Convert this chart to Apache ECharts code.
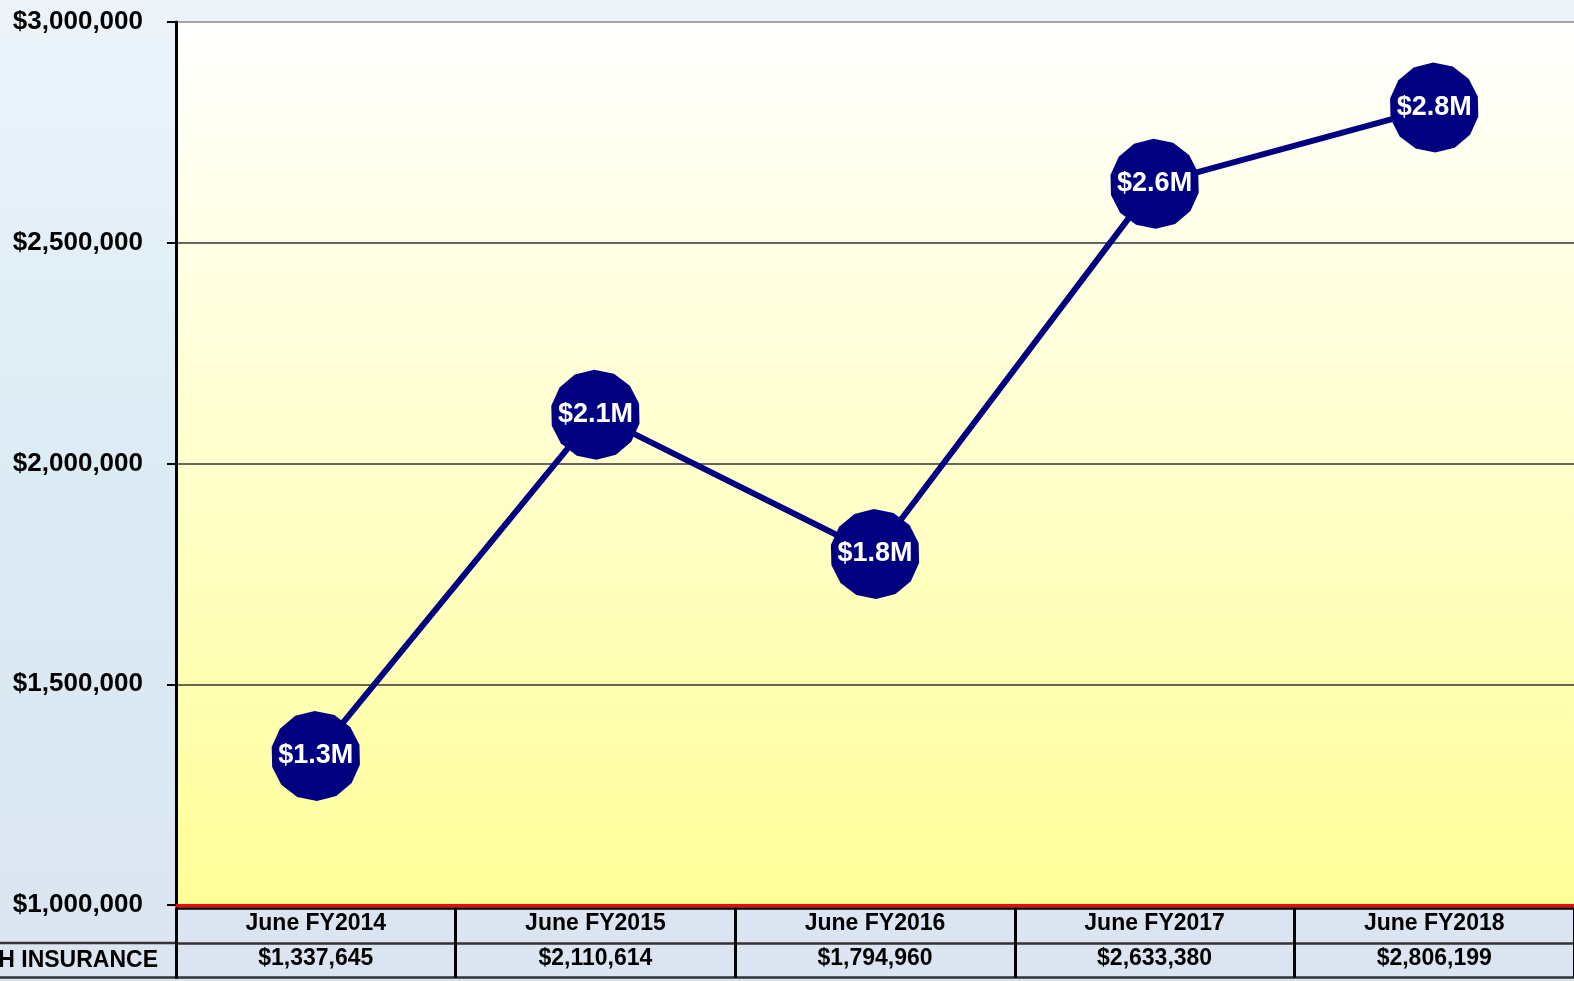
<!DOCTYPE html>
<html>
<head>
<meta charset="utf-8">
<title>Health Insurance</title>
<script src="https://cdn.jsdelivr.net/npm/echarts@6/dist/echarts.min.js"></script>
<style>
  html, body { margin: 0; padding: 0; }
  #chart { width: 1574px; height: 981px; }
</style>
</head>
<body>
<div id="chart"></div>
<script>
// Fiscal-year snapshots and the health insurance amount for each
const categories = ['June FY2014', 'June FY2015', 'June FY2016', 'June FY2017', 'June FY2018'];
const insurance = [1337645, 2110614, 1794960, 2633380, 2806199];
const rowHeader = 'HEALTH INSURANCE';
const yTicks = { min: 1000000, max: 3000000, interval: 500000 };

// Layout of the plot and of the data table beneath it
const PLOT_LEFT = 176, PLOT_RIGHT = 0, PLOT_TOP = 22, PLOT_H = 883;
const TABLE_TOP = 908.5, ROW_H = 34.5;

const FONT = '"Liberation Sans", Arial, sans-serif';
const NAVY = '#000080';

// Rounded polygon marker, built as an SVG path
function polygonPath(sides) {
  const pts = [];
  for (let i = 0; i < sides; i++) {
    const a = (i / sides) * Math.PI * 2 + 0.2;
    pts.push((50 + 50 * Math.cos(a)).toFixed(2) + ' ' + (50 + 50 * Math.sin(a)).toFixed(2));
  }
  return 'path://M' + pts.join(' L') + ' Z';
}

const money = v => '$' + v.toLocaleString('en-US');
const millions = v => '$' + (v / 1e6).toFixed(1) + 'M';

const chart = echarts.init(document.getElementById('chart'), null, { renderer: 'canvas' });

chart.setOption({
  animation: false,
  backgroundColor: new echarts.graphic.LinearGradient(0, 0, 0, 1, [
    { offset: 0, color: '#ecf4fa' },
    { offset: 0.5, color: '#dbebf4' },
    { offset: 1, color: '#dbe5f1' }
  ]),
  textStyle: { fontFamily: FONT },
  grid: [
    {
      left: PLOT_LEFT, right: PLOT_RIGHT, top: PLOT_TOP, height: PLOT_H,
      containLabel: false, outerBoundsMode: 'none',
      show: true, borderWidth: 0,
      backgroundColor: new echarts.graphic.LinearGradient(0, 0, 0, 1, [
        { offset: 0, color: '#ffffff' },
        { offset: 1, color: '#ffff99' }
      ])
    },
    {
      left: PLOT_LEFT, right: PLOT_RIGHT, top: TABLE_TOP, height: ROW_H * 2,
      containLabel: false, outerBoundsMode: 'none',
      show: true, borderWidth: 0, backgroundColor: '#dbe5f1'
    }
  ],
  xAxis: [
    {
      type: 'category', gridIndex: 0, data: categories, boundaryGap: true,
      axisLine: { show: true, lineStyle: { color: '#ff0000', width: 3 } },
      axisTick: { show: false },
      axisLabel: {
        color: '#000', fontWeight: 'bold', fontSize: 23, margin: 7,
        fontFamily: FONT, interval: 0
      },
      splitLine: { show: false }
    },
    {
      // Bottom table row: the amount for each fiscal year
      type: 'category', gridIndex: 1, data: categories, boundaryGap: true,
      axisLine: { show: false }, axisTick: { show: false },
      axisLabel: {
        show: true, inside: true, margin: 7, interval: 0,
        color: '#000', fontWeight: 'bold', fontSize: 23, fontFamily: FONT,
        formatter: (v, i) => money(insurance[i])
      },
      splitLine: { show: true, interval: 0, lineStyle: { color: '#000', width: 3 } }
    }
  ],
  yAxis: [
    {
      type: 'value', gridIndex: 0,
      min: yTicks.min, max: yTicks.max, interval: yTicks.interval,
      axisLine: { show: true, lineStyle: { color: '#000', width: 3 } },
      axisTick: { show: true, length: 9, lineStyle: { color: '#000', width: 2 } },
      axisLabel: {
        color: '#000', fontWeight: 'bold', fontSize: 26, margin: 33,
        fontFamily: FONT, formatter: v => money(v)
      },
      splitLine: {
        show: true,
        lineStyle: { color: ['#333', '#333', '#333', '#333', '#8a8a8a'], width: 1.5 }
      }
    },
    {
      type: 'category', gridIndex: 1, data: [rowHeader, ''], boundaryGap: true,
      axisLine: { show: true, lineStyle: { color: '#000', width: 3 } },
      axisTick: { show: false },
      axisLabel: {
        color: '#000', fontWeight: 'bold', fontSize: 23, margin: 18,
        fontFamily: FONT, interval: 0
      },
      splitLine: {
        show: true, interval: 0,
        lineStyle: { color: ['#333', '#333', '#000'], width: 2.5 }
      }
    }
  ],
  series: [
    {
      type: 'line', xAxisIndex: 0, yAxisIndex: 0,
      data: insurance,
      lineStyle: { color: NAVY, width: 6 },
      symbol: polygonPath(14), symbolSize: 90, symbolKeepAspect: true,
      itemStyle: { color: NAVY, borderWidth: 0 },
      label: {
        show: true, position: 'inside', color: '#fff', fontWeight: 'bold',
        fontSize: 27, fontFamily: FONT, formatter: p => millions(p.value)
      },
      z: 3
    }
  ],
  graphic: [
    // Row rules continued under the row header on the left
    {
      type: 'line', silent: true,
      shape: { x1: 0, y1: TABLE_TOP + ROW_H, x2: PLOT_LEFT, y2: TABLE_TOP + ROW_H },
      style: { stroke: '#333', lineWidth: 2.5 }
    },
    {
      type: 'line', silent: true,
      shape: { x1: 0, y1: TABLE_TOP + 2 * ROW_H, x2: PLOT_LEFT, y2: TABLE_TOP + 2 * ROW_H },
      style: { stroke: '#333', lineWidth: 2.5 }
    }
  ]
});
</script>
</body>
</html>
